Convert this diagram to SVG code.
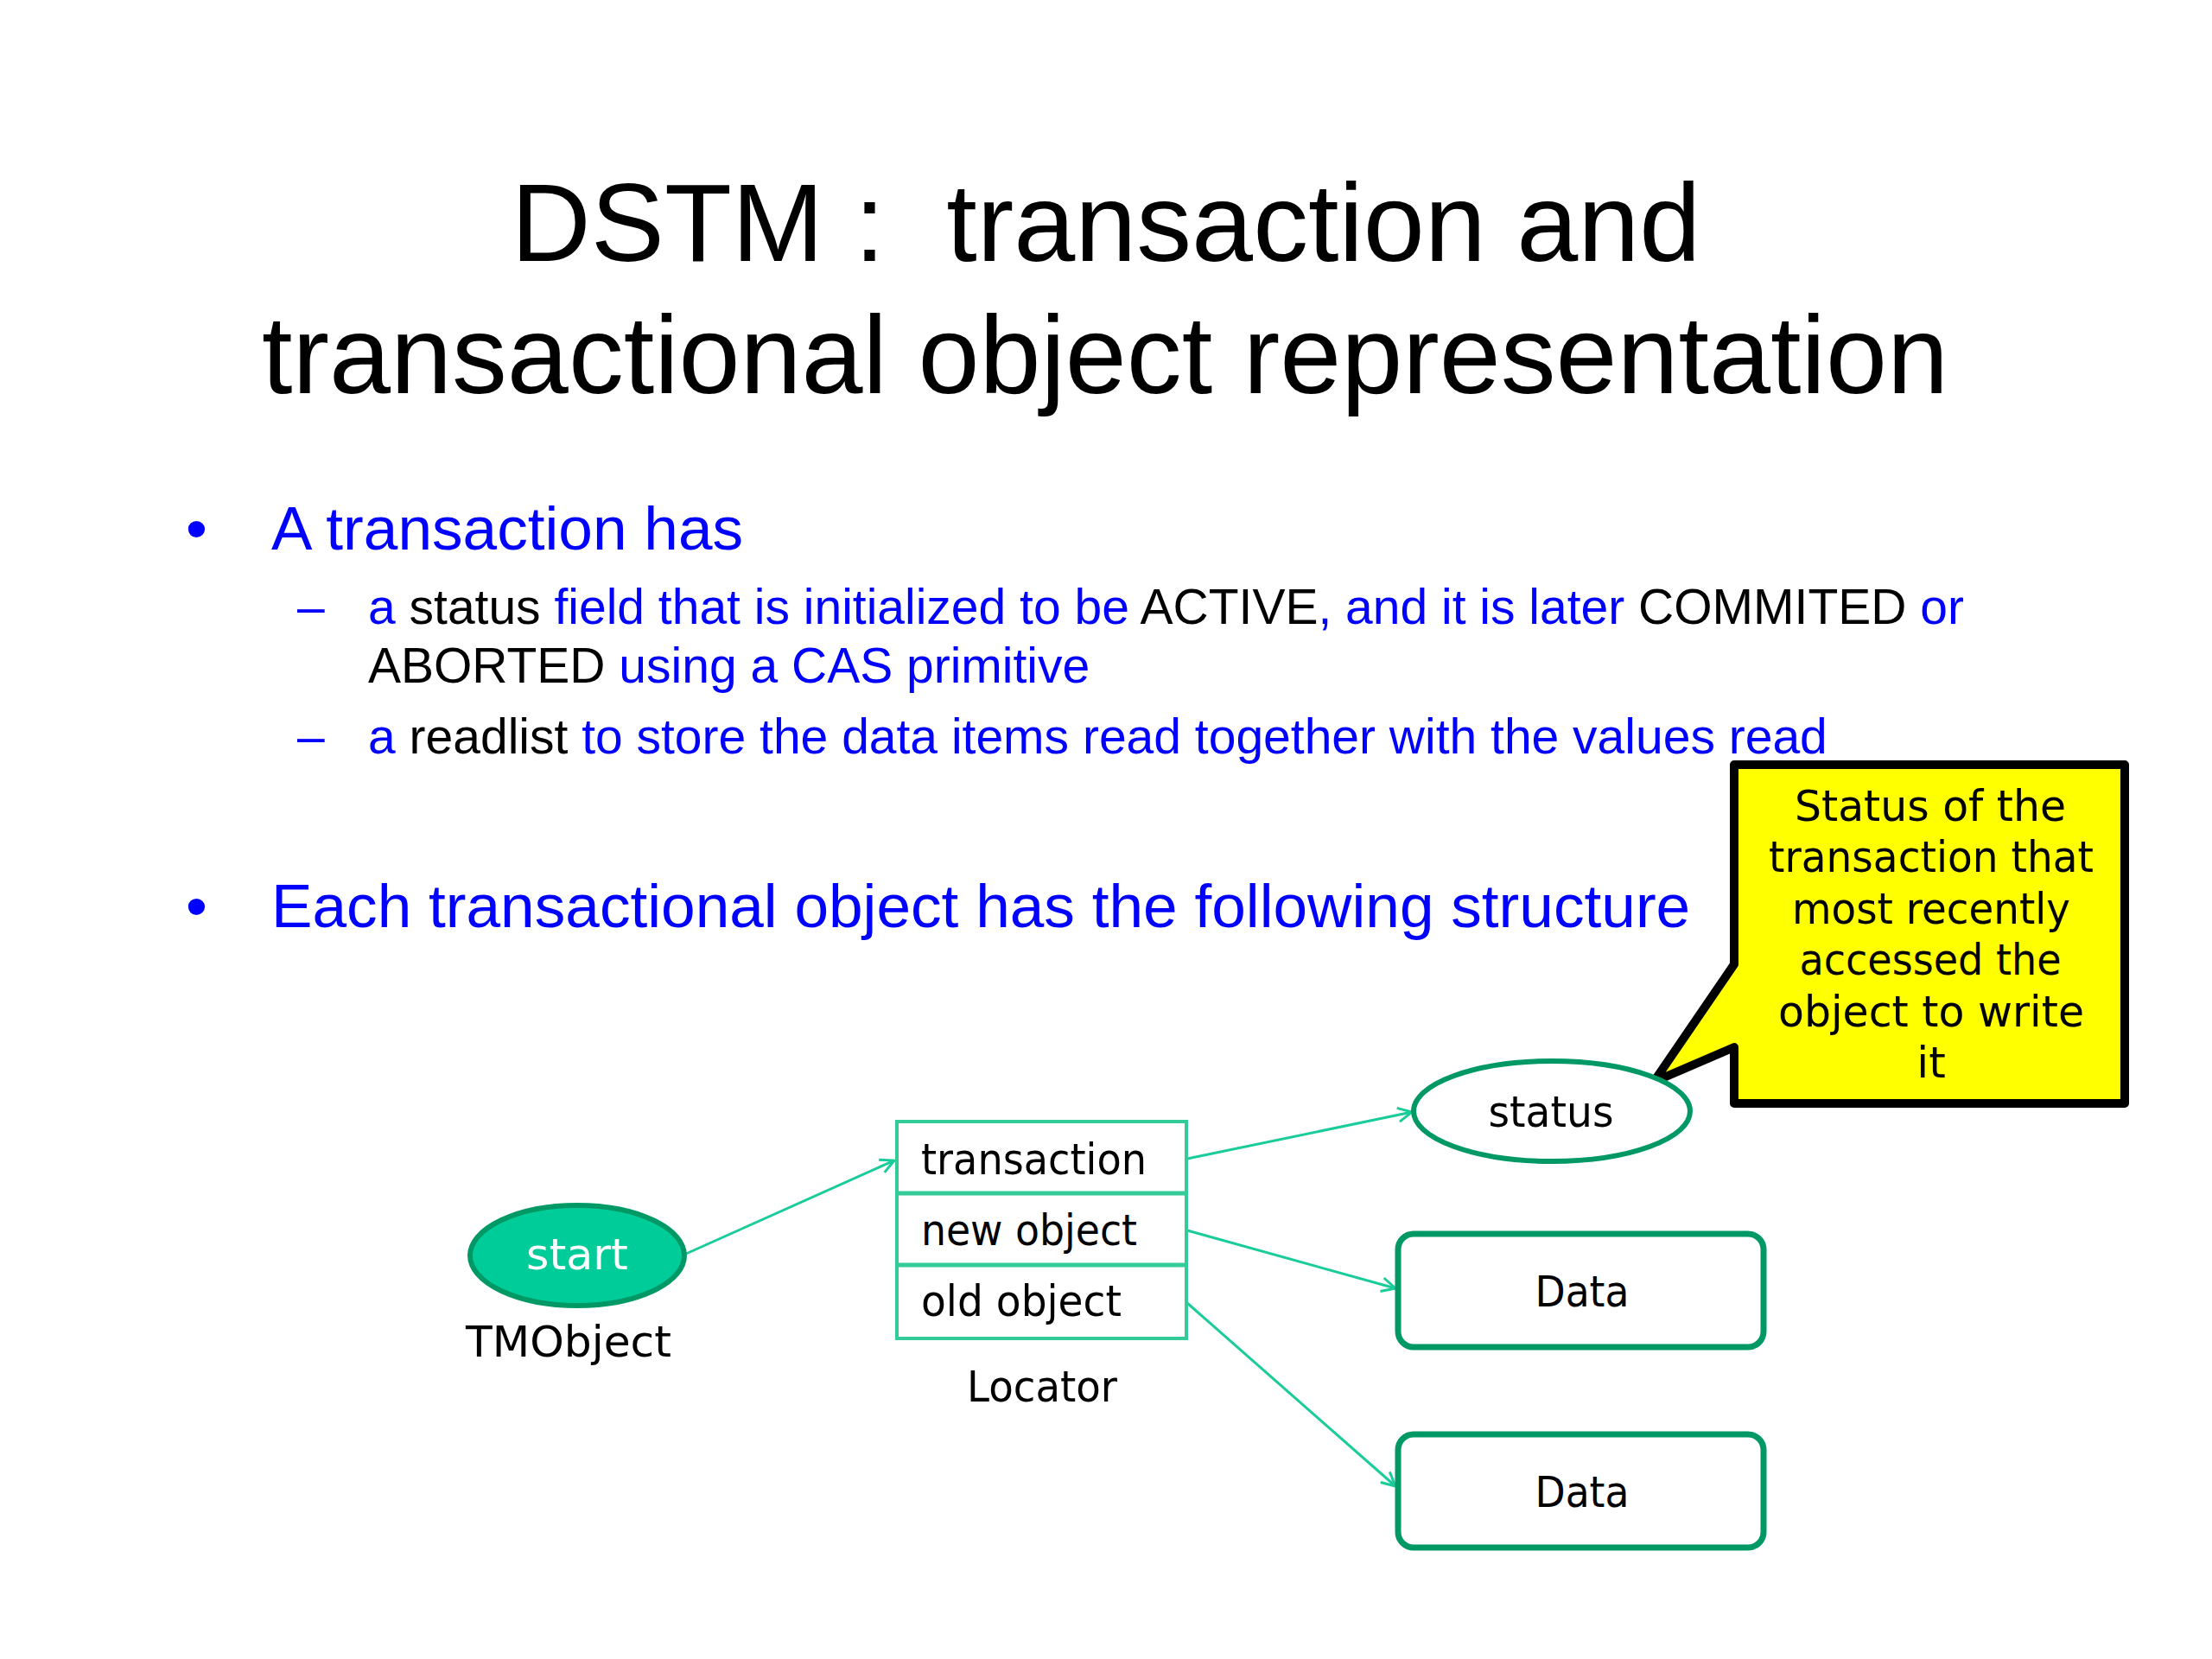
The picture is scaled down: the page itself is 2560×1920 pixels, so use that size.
<svg xmlns="http://www.w3.org/2000/svg" width="2560" height="1920" viewBox="0 0 2560 1920">
<style>
.title{font-family:"Liberation Sans",Arial,sans-serif;font-size:127.7px;fill:#000;text-anchor:middle}
.b1{font-family:"Liberation Sans",Arial,sans-serif;font-size:71.2px;fill:#0000FF}
.b2{font-family:"Liberation Sans",Arial,sans-serif;font-size:57px;fill:#0000FF}
.k{fill:#000}
.cs{font-family:"Comic Sans MS","DejaVu Sans","Noto Sans",sans-serif;font-size:50px;fill:#000}
.mid{text-anchor:middle}
.conn{stroke:#1ACC99;stroke-width:3;fill:none}
</style>
<defs>
<marker id="arr" viewBox="0 0 20 20" refX="19" refY="10" markerWidth="20" markerHeight="20" markerUnits="userSpaceOnUse" orient="auto">
<path d="M3,2 L19,10 L3,18" fill="none" stroke="#1ACC99" stroke-width="3"/>
</marker>
</defs>
<rect width="2560" height="1920" fill="#fff"/>
<g id="title">
<text class="title" x="1280" y="302" xml:space="preserve">DSTM :  transaction and</text>
<text class="title" x="1279" y="455">transactional object representation</text>
</g>
<g id="bullets">
<text class="b1" x="215" y="636">•</text>
<text class="b1" x="314" y="636">A transaction has</text>
<text class="b2" x="344" y="722">–</text>
<text class="b2" x="426" y="722">a <tspan class="k">status</tspan> field that is initialized to be <tspan class="k">ACTIVE</tspan>, and it is later <tspan class="k">COMMITED</tspan> or</text>
<text class="b2" x="426" y="790"><tspan class="k">ABORTED</tspan> using a CAS primitive</text>
<text class="b2" x="344" y="872">–</text>
<text class="b2" x="426" y="872">a <tspan class="k">readlist</tspan> to store the data items read together with the values read</text>
<text class="b1" x="215" y="1073">•</text>
<text class="b1" x="314" y="1073">Each transactional object has the following structure</text>
</g>
<g id="callout">
<path d="M2007,885 H2459 V1277 H2007 V1212 L1914,1252 L2007,1116 Z" fill="#FFFF00" stroke="#000" stroke-width="10" stroke-linejoin="round"/>
<text class="cs mid" x="2234" y="950" textLength="314" lengthAdjust="spacingAndGlyphs">Status of the</text>
<text class="cs mid" x="2235" y="1009" textLength="376" lengthAdjust="spacingAndGlyphs">transaction that</text>
<text class="cs mid" x="2235" y="1069" textLength="322" lengthAdjust="spacingAndGlyphs">most recently</text>
<text class="cs mid" x="2234" y="1128" textLength="303" lengthAdjust="spacingAndGlyphs">accessed the</text>
<text class="cs mid" x="2235" y="1188" textLength="354" lengthAdjust="spacingAndGlyphs">object to write</text>
<text class="cs mid" x="2235" y="1247">it</text>
</g>
<g id="connectors">
<line class="conn" x1="794" y1="1451" x2="1035" y2="1343" marker-end="url(#arr)"/>
<line class="conn" x1="1374" y1="1341" x2="1634" y2="1287" marker-end="url(#arr)"/>
<line class="conn" x1="1374" y1="1424" x2="1615" y2="1491" marker-end="url(#arr)"/>
<line class="conn" x1="1374" y1="1508" x2="1615" y2="1720" marker-end="url(#arr)"/>
</g>
<g id="tmobject">
<ellipse cx="668" cy="1453" rx="124" ry="58" fill="#00CC99" stroke="#009966" stroke-width="6"/>
<text class="cs mid" x="668" y="1469" style="fill:#fff" textLength="118" lengthAdjust="spacingAndGlyphs">start</text>
<text class="cs mid" x="658" y="1570" textLength="238" lengthAdjust="spacingAndGlyphs">TMObject</text>
</g>
<g id="locator">
<rect x="1038" y="1298" width="335" height="251" fill="#fff" stroke="#33CC99" stroke-width="4"/>
<line x1="1038" y1="1381" x2="1373" y2="1381" stroke="#33CC99" stroke-width="5"/>
<line x1="1038" y1="1464" x2="1373" y2="1464" stroke="#33CC99" stroke-width="5"/>
<text class="cs" x="1066" y="1359" textLength="261" lengthAdjust="spacingAndGlyphs">transaction</text>
<text class="cs" x="1066" y="1441" textLength="250" lengthAdjust="spacingAndGlyphs">new object</text>
<text class="cs" x="1066" y="1523" textLength="232" lengthAdjust="spacingAndGlyphs">old object</text>
<text class="cs mid" x="1206" y="1622" textLength="174" lengthAdjust="spacingAndGlyphs">Locator</text>
</g>
<g id="status">
<ellipse cx="1796" cy="1286" rx="160" ry="58" fill="#fff" stroke="#009966" stroke-width="6"/>
<text class="cs mid" x="1795" y="1304" textLength="145" lengthAdjust="spacingAndGlyphs">status</text>
</g>
<g id="data1">
<rect x="1618" y="1428" width="423" height="131" rx="18" fill="#fff" stroke="#009966" stroke-width="7"/>
<text class="cs mid" x="1831" y="1512" textLength="109" lengthAdjust="spacingAndGlyphs">Data</text>
</g>
<g id="data2">
<rect x="1618" y="1660" width="423" height="131" rx="18" fill="#fff" stroke="#009966" stroke-width="7"/>
<text class="cs mid" x="1831" y="1744" textLength="109" lengthAdjust="spacingAndGlyphs">Data</text>
</g>
</svg>
